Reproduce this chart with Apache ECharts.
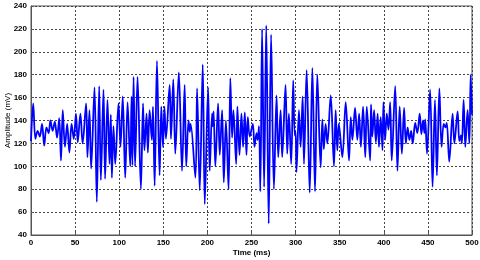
<!DOCTYPE html>
<html><head><meta charset="utf-8">
<script src="https://cdn.jsdelivr.net/npm/echarts@6/dist/echarts.min.js"></script>
<style>html,body{margin:0;padding:0;background:#fff;}#c{width:480px;height:260px;}</style>
</head><body><div id="c"></div>
<script>
// Extrema (time in ms)
var times = [0,2.5,5,7.5,10,12.5,15,17.5,20,22,24.5,27,29.5,32,34,36,38.5,41,43.5,46,48.5,51,53,56,58.5,62.5,64,66.3,68.2,72,74.6,77.3,79.2,82.2,84,86.7,89,90.5,91.7,93.5,95.5,99.2,101.5,104,106.8,109.5,112.5,114,115,116.3,118,120.8,124.6,127,128.6,131,132.5,134.5,137,138.3,140.2,142.8,145.8,147.7,149.6,151.3,153,157.2,158.7,161.3,163.6,167.6,171.2,174.2,176,178.6,180,181,186.4,188.3,191.3,194.7,197,200.8,202.6,205.3,206,207,209,212.1,214,216.7,218.6,221,224,226,228,229.5,232.6,234,236.4,238.6,240.5,242.4,244.3,245.8,248,251.5,253.4,255.7,257,258.5,260,262,264.3,266.7,269.5,272.2,275.4,278.4,280.3,283,284.8,288.6,290.5,292.4,295,297.3,299,300,301,303.8,305.7,308,309.5,312.5,316,319,322,324.6,328.4,330.3,332,334,336,339.8,343.5,345.4,347.3,349,353,356.8,360.6,362.5,364.4,367.4,370,372,374,376.5,379,380.7,384.5,385.5,387,389,391,393,394.5,396.5,398.5,399.6,401.5,403.4,405.3,407.2,409,412.9,415.5,418,420.5,423,425,427,429,431,432.8,435.6,438,440.7,442.6,444.5,446,447,449,452.5,455.3,458,460.2,463,465.5,468,470,471.4,474.2,478,480,483.7,485.6,487.5,488.5,490.5,492.4,495,497,498.5,500];
var amplitude = [122,155,124,131,126,137,118,134,129,140,131,139,125,142,105,149,117,137,112,137,124,146,121,146,120,155,108,149,98,169,69,170,88,167,89,158,102,145,90,135,102,155,117,161,90,156,100,161,101,178,100,178,80,155,114,146,112,149,123,152,83,192,92,152,117,152,124,171,124,176,111,182,96,171,100,140,130,137,90,168,79,189,67,169,96,146,135,148,100,155,110,149,86,140,80,177,125,149,102,152,110,146,117,147,110,143,126,137,117,129,123,135,78,220,82,223,50,215,80,162,108,149,108,171,111,146,102,175,127,130,95,149,117,161,102,184,77,186,78,180,99,141,115,137,120,162,100,149,114,137,108,156,105,143,123,151,123,146,117,152,108,152,105,154,126,149,121,146,117,143,114,156,123,146,132,156,105,170,96,152,111,151,120,134,123,131,120,138,129,146,128,140,129,141,111,167,82,158,92,168,117,137,134,138,104,146,120,148,122,127,120,158,117,149,120,180,145];
var yTicks = [40,60,80,100,120,140,160,180,200,220,240];
var xTicks = [0,50,100,150,200,250,300,350,400,450,500];

var data = times.map(function(t,i){return [t, amplitude[i]];});
var chart = echarts.init(document.getElementById('c'), null, {renderer:'canvas'});
var lab = {color:'#000', fontSize:8, fontWeight:'bold', fontFamily:'Liberation Sans, Arial, sans-serif'};
chart.setOption({
  animation:false,
  grid:{left:31, right:8, top:6, bottom:25, containLabel:false, outerBoundsMode:'none',
    show:true, borderColor:'#555', borderWidth:1, backgroundColor:'#fff'},
  xAxis:{type:'value', min:xTicks[0], max:xTicks[xTicks.length-1], interval:50,
    name:'Time (ms)', nameLocation:'middle', nameGap:14, nameMoveOverlap:false,
    nameTextStyle:{color:'#000', fontSize:8, fontWeight:'bold', fontFamily:'Liberation Sans, Arial, sans-serif'},
    axisLine:{show:true, lineStyle:{color:'#555', width:1}},
    axisTick:{show:true, inside:true, length:3, lineStyle:{color:'#555'}},
    axisLabel:Object.assign({margin:4}, lab),
    splitLine:{show:true, lineStyle:{color:'#444', width:1, type:[2,2]}}},
  yAxis:{type:'value', min:yTicks[0], max:yTicks[yTicks.length-1], interval:20,
    name:'Amplitude (mV)', nameLocation:'middle', nameGap:19, nameRotate:90, nameMoveOverlap:false,
    nameTextStyle:{color:'#000', fontSize:8, fontFamily:'Liberation Sans, Arial, sans-serif'},
    axisLine:{show:true, lineStyle:{color:'#555', width:1}},
    axisTick:{show:true, inside:true, length:3, lineStyle:{color:'#555'}},
    axisLabel:Object.assign({margin:4}, lab),
    splitLine:{show:true, lineStyle:{color:'#444', width:1, type:[2,2]}}},
  series:[{type:'line', data:data, showSymbol:false, smooth:0.35,
    lineStyle:{color:'#0000ff', width:1.8}, itemStyle:{color:'#0000ff'}}]
});
</script></body></html>
